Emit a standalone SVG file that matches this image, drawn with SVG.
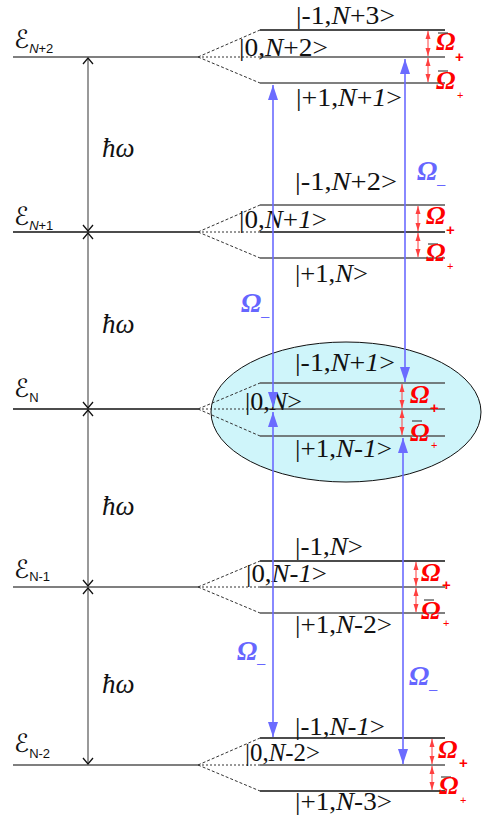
<svg xmlns="http://www.w3.org/2000/svg" width="483" height="820" viewBox="0 0 483 820">
<style>
.bg{fill:#ffffff}
.lv{stroke:#555555;stroke-width:1.3;fill:none}
.lt{stroke:#111111;stroke-width:1.3;fill:none}
.dot{stroke:#333333;stroke-width:1;stroke-dasharray:2,2;fill:none}
.dsh{stroke:#333333;stroke-width:1;stroke-dasharray:3,2;fill:none}
.ket{font-family:"Liberation Serif","Times New Roman",serif;font-size:25px;fill:#111111}
.it{font-style:italic}
.en{font-family:"DejaVu Sans",sans-serif;font-style:italic;font-size:25px;fill:#111111}
.ensub{font-family:"Liberation Sans",sans-serif;font-style:normal;font-size:13px}
.hw{font-family:"Liberation Serif",serif;font-style:italic;font-size:27px;fill:#111111}
.hbar{stroke:#555555;stroke-width:1.2;fill:none}
.om{font-family:"Liberation Serif",serif;font-weight:bold;font-style:italic;font-size:26px;fill:#ff0000}
.pl{font-family:"Liberation Sans",sans-serif;font-weight:bold;font-size:15px;fill:#ff0000}
.pls{font-family:"Liberation Sans",sans-serif;font-size:11px;fill:#ff0000}
.ovl{stroke:#444444;stroke-width:1.2}
.omb{font-family:"Liberation Serif",serif;font-weight:bold;font-style:italic;font-size:27px;fill:#6666ff}
.mn{font-family:"Liberation Sans",sans-serif;font-size:15px;fill:#6666ff}
.rar{stroke:#ff4040;stroke-width:1;fill:none;marker-start:url(#rh);marker-end:url(#rh)}
.bar{stroke:#6b6bff;stroke-width:1.6;fill:none;marker-start:url(#bh);marker-end:url(#bh)}
</style>
<defs>
<marker id="hh" markerUnits="userSpaceOnUse" markerWidth="10" markerHeight="14" refX="7" refY="7" orient="auto-start-reverse">
<path d="M1,2 L7,7 L1,12" fill="none" stroke="#111111" stroke-width="1.3"/>
</marker>
<marker id="rh" markerUnits="userSpaceOnUse" markerWidth="9" markerHeight="6" refX="8" refY="3" orient="auto-start-reverse">
<path d="M0,0.5 L8,3 L0,5.5 z" fill="#ff4040"/>
</marker>
<marker id="bh" markerUnits="userSpaceOnUse" markerWidth="16" markerHeight="12" refX="15" refY="6" orient="auto-start-reverse">
<path d="M0,1 L15,6 L0,11 z" fill="#6b6bff"/>
</marker>
</defs>
<rect class="bg" x="0" y="0" width="483" height="820"/>

<g id="highlight">
<ellipse cx="346" cy="412" rx="135" ry="70" fill="#cff5fa" stroke="#111111" stroke-width="1"/>
</g>

<g id="level-N2">
<path class="lv" d="M13,57 H198"/>
<path class="dot" d="M198,57 H260"/>
<path class="dsh" d="M198,57 L260,30 M198,57 L260,83"/>
<path class="lt" d="M260,30 H445"/>
<path class="lv" d="M260,57 H445"/>
<path class="lv" d="M260,83 H445"/>
<text class="en" x="14" y="48">ℰ<tspan class="ensub" dy="5"><tspan class="it">N</tspan>+2</tspan></text>
<text class="ket" x="296" y="24" textLength="99" lengthAdjust="spacingAndGlyphs">|-1,<tspan class="it">N</tspan>+3&gt;</text>
<text class="ket" x="239" y="56" textLength="89" lengthAdjust="spacingAndGlyphs">|0,<tspan class="it">N</tspan>+2&gt;</text>
<text class="ket" x="296" y="106" textLength="106" lengthAdjust="spacingAndGlyphs">|+1,<tspan class="it">N</tspan>+<tspan class="it">1</tspan>&gt;</text>
</g>

<g id="level-N1">
<path class="lt" d="M13,232 H198"/>
<path class="dot" d="M198,232 H260"/>
<path class="dsh" d="M198,232 L260,205 M198,232 L260,258"/>
<path class="lv" d="M260,205 H445"/>
<path class="lt" d="M260,232 H445"/>
<path class="lv" d="M260,258 H445"/>
<text class="en" x="14" y="225">ℰ<tspan class="ensub" dy="5"><tspan class="it">N</tspan>+1</tspan></text>
<text class="ket" x="295" y="190" textLength="102" lengthAdjust="spacingAndGlyphs">|-1,<tspan class="it">N</tspan>+2&gt;</text>
<text class="ket" x="239" y="228" textLength="88" lengthAdjust="spacingAndGlyphs">|0,<tspan class="it">N</tspan>+<tspan class="it">1</tspan>&gt;</text>
<text class="ket" x="295" y="282" textLength="73" lengthAdjust="spacingAndGlyphs">|+1,<tspan class="it">N</tspan>&gt;</text>
</g>

<g id="level-N">
<path class="lt" d="M13,409 H198"/>
<path class="dot" d="M198,409 H260"/>
<path class="dsh" d="M198,409 L260,383 M198,409 L260,436"/>
<path class="lv" d="M260,383 H445"/>
<path class="lv" d="M260,409 H445"/>
<path class="lv" d="M260,436 H445"/>
<text class="en" x="14" y="397">ℰ<tspan class="ensub it" dy="5">N</tspan></text>
<text class="ket" x="295" y="371" textLength="100" lengthAdjust="spacingAndGlyphs">|-1,<tspan class="it">N</tspan>+<tspan class="it">1</tspan>&gt;</text>
<text class="ket" x="245" y="410" textLength="57" lengthAdjust="spacingAndGlyphs">|0,<tspan class="it">N</tspan>&gt;</text>
<text class="ket" x="295" y="457" textLength="97" lengthAdjust="spacingAndGlyphs">|+1,<tspan class="it">N</tspan>-<tspan class="it">1</tspan>&gt;</text>
</g>

<g id="level-Nm1">
<path class="lv" d="M13,587 H198"/>
<path class="dot" d="M198,587 H260"/>
<path class="dsh" d="M198,587 L260,561 M198,587 L260,613"/>
<path class="lt" d="M260,561 H445"/>
<path class="lv" d="M260,587 H445"/>
<path class="lv" d="M260,613 H445"/>
<text class="en" x="14" y="578">ℰ<tspan class="ensub it" dy="3">N-1</tspan></text>
<text class="ket" x="295" y="555" textLength="68" lengthAdjust="spacingAndGlyphs">|-1,<tspan class="it">N</tspan>&gt;</text>
<text class="ket" x="246" y="582" textLength="81" lengthAdjust="spacingAndGlyphs">|0,<tspan class="it">N</tspan>-<tspan class="it">1</tspan>&gt;</text>
<text class="ket" x="295" y="633" textLength="97" lengthAdjust="spacingAndGlyphs">|+1,<tspan class="it">N</tspan>-2&gt;</text>
</g>

<g id="level-Nm2">
<path class="lv" d="M13,765 H198"/>
<path class="dot" d="M198,765 H260"/>
<path class="dsh" d="M198,765 L260,738 M198,765 L260,791"/>
<path class="lt" d="M260,738 H445"/>
<path class="lv" d="M260,765 H445"/>
<path class="lt" d="M260,791 H445"/>
<text class="en" x="14" y="752">ℰ<tspan class="ensub it" dy="6">N-2</tspan></text>
<text class="ket" x="295" y="735" textLength="90" lengthAdjust="spacingAndGlyphs">|-1,<tspan class="it">N</tspan>-<tspan class="it">1</tspan>&gt;</text>
<text class="ket" x="245" y="761" textLength="75" lengthAdjust="spacingAndGlyphs">|0,<tspan class="it">N</tspan>-2&gt;</text>
<text class="ket" x="295" y="810" textLength="97" lengthAdjust="spacingAndGlyphs">|+1,<tspan class="it">N</tspan>-3&gt;</text>
</g>

<g id="rabi-labels">
<text class="om" x="436" y="50">Ω</text><text class="pl" x="455" y="62">+</text>
<line class="ovl" x1="438" y1="33" x2="448" y2="33"/>
<line class="ovl" x1="438" y1="71" x2="448" y2="71"/>
<text class="om" x="436" y="89">Ω</text><text class="pls" x="457" y="99">+</text>

<text class="om" x="426" y="224">Ω</text><text class="pl" x="446" y="235">+</text>
<line class="ovl" x1="428" y1="244" x2="438" y2="244"/>
<text class="om" x="426" y="261">Ω</text><text class="pls" x="447" y="270">+</text>

<text class="om" x="410" y="403">Ω</text><text class="pl" x="430" y="413">+</text>
<line class="ovl" x1="412" y1="421" x2="422" y2="421"/>
<text class="om" x="410" y="441">Ω</text><text class="pls" x="431" y="449">+</text>

<text class="om" x="421" y="581">Ω</text><text class="pl" x="442" y="590">+</text>
<line class="ovl" x1="424" y1="600" x2="434" y2="600"/>
<text class="om" x="421" y="619">Ω</text><text class="pls" x="443" y="627">+</text>

<text class="om" x="438" y="758">Ω</text><text class="pl" x="459" y="768">+</text>
<line class="ovl" x1="441" y1="777" x2="451" y2="777"/>
<text class="om" x="439" y="794">Ω</text><text class="pls" x="460" y="804">+</text>

<text class="omb" x="417" y="180">Ω</text><text class="mn" x="437" y="189">–</text>
<text class="omb" x="241" y="312">Ω</text><text class="mn" x="261" y="321">–</text>
<text class="omb" x="237" y="660">Ω</text><text class="mn" x="257" y="668">–</text>
<text class="omb" x="409" y="685">Ω</text><text class="mn" x="429" y="694">–</text>

<text class="hw" x="102" y="157">ħω</text>
<text class="hw" x="102" y="333">ħω</text>
<text class="hw" x="102" y="515">ħω</text>
<text class="hw" x="102" y="693">ħω</text>
</g>

<g id="connectors">
<path class="hbar" d="M88,58 V231" marker-start="url(#hh)" marker-end="url(#hh)"/>
<path class="hbar" d="M88,233 V408" marker-start="url(#hh)" marker-end="url(#hh)"/>
<path class="hbar" d="M88,410 V586" marker-start="url(#hh)" marker-end="url(#hh)"/>
<path class="hbar" d="M88,588 V764" marker-start="url(#hh)" marker-end="url(#hh)"/>

<path class="rar" d="M428,31 V56"/>
<path class="rar" d="M428,58 V82"/>
<path class="rar" d="M418,206 V231"/>
<path class="rar" d="M418,233 V257"/>
<path class="rar" d="M402,384 V408"/>
<path class="rar" d="M402,410 V435"/>
<path class="rar" d="M416,562 V586"/>
<path class="rar" d="M416,588 V612"/>
<path class="rar" d="M432,739 V764"/>
<path class="rar" d="M432,766 V790"/>

<path class="bar" d="M273,85 V407"/>
<path class="bar" d="M405,59 V382"/>
<path class="bar" d="M273,412 V737"/>
<path class="bar" d="M403,438 V764"/>
</g>
</svg>
